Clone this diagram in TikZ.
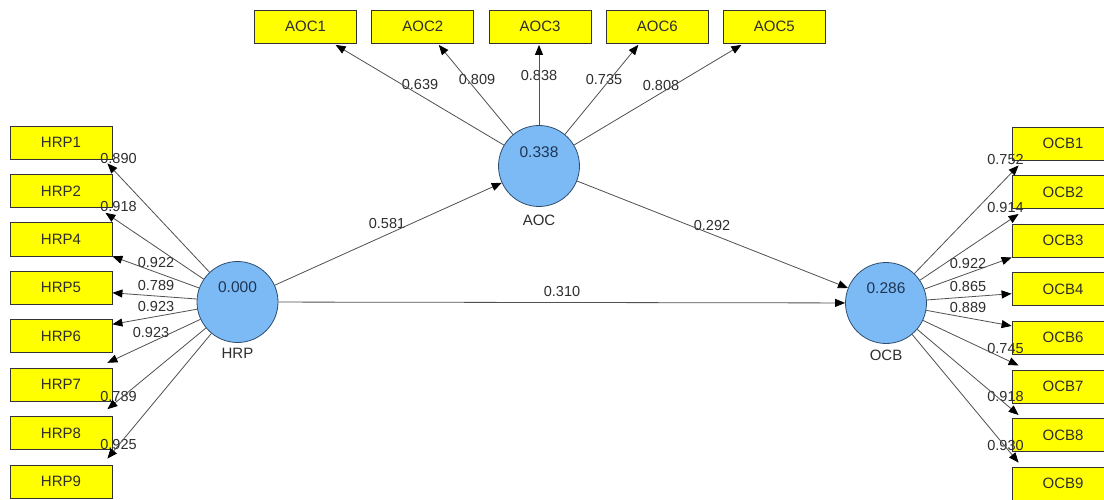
\documentclass[tikz,border=0pt]{standalone}
\usepackage{fontspec}
\setmainfont{Liberation Sans}
\usetikzlibrary{arrows.meta}
\definecolor{boxyellow}{HTML}{FFFF00}
\definecolor{lvblue}{HTML}{7CBAF6}
\definecolor{lvborder}{HTML}{2E4D6E}
\definecolor{linegray}{HTML}{505050}
\definecolor{txtgray}{HTML}{2E2E2E}
\definecolor{valblue}{HTML}{1E3554}
\begin{document}
\begin{tikzpicture}[x=1pt,y=-1pt,
  ind/.style={draw=black!80, fill=boxyellow, minimum width=102pt, minimum height=33pt,
    inner sep=0pt, font=\fontsize{15}{17}\selectfont, text=txtgray, line width=0.8pt},
  lv/.style={circle, draw=lvborder, fill=lvblue, minimum size=81pt, inner sep=0pt, line width=0.8pt},
  val/.style={font=\fontsize{15.5}{17}\selectfont, text=valblue, inner sep=0pt},
  lvname/.style={font=\fontsize{15}{17}\selectfont, text=txtgray, inner sep=0pt},
  lab/.style={font=\fontsize{14.5}{16}\selectfont, text=txtgray, inner sep=0pt},
  arr/.style={draw=linegray, line width=0.8pt, -{Triangle[length=10pt,width=8pt,color=black]}}
]
\useasboundingbox (0,0) rectangle (1104,500);
\fill[white] (0,0) rectangle (1104,500);

% indicator boxes
\node[ind] (AOC1) at (305.6,26.5) {AOC1};
\node[ind] (AOC2) at (422.8,26.5) {AOC2};
\node[ind] (AOC3) at (540,26.5) {AOC3};
\node[ind] (AOC6) at (657.3,26.5) {AOC6};
\node[ind] (AOC5) at (774.4,26.5) {AOC5};

\node[ind] (HRP1) at (61,142.5) {HRP1};
\node[ind] (HRP2) at (61,190.9) {HRP2};
\node[ind] (HRP4) at (61,239.4) {HRP4};
\node[ind] (HRP5) at (61,287.8) {HRP5};
\node[ind] (HRP6) at (61,336.2) {HRP6};
\node[ind] (HRP7) at (61,384.7) {HRP7};
\node[ind] (HRP8) at (61,433.1) {HRP8};
\node[ind] (HRP9) at (61,481.5) {HRP9};

\node[ind] (OCB1) at (1063,143.5) {OCB1};
\node[ind] (OCB2) at (1063,192.1) {OCB2};
\node[ind] (OCB3) at (1063,240.6) {OCB3};
\node[ind] (OCB4) at (1063,289.2) {OCB4};
\node[ind] (OCB6) at (1063,337.8) {OCB6};
\node[ind] (OCB7) at (1063,386.4) {OCB7};
\node[ind] (OCB8) at (1063,434.9) {OCB8};
\node[ind] (OCB9) at (1063,483.5) {OCB9};

% latent variables
\node[lv] (AOC) at (539,166) {};
\node[lv] (HRP) at (237.5,302) {};
\node[lv] (OCB) at (886,303) {};
\node[val] (vAOC) at (539,152) {0.338};
\node[val] (vHRP) at (237.5,287) {0.000};
\node[val] (vOCB) at (886,288) {0.286};
\node[lvname] (nAOC) at (539,220) {AOC};
\node[lvname] (nHRP) at (237.5,353) {HRP};
\node[lvname] (nOCB) at (886,355) {OCB};

% labels
\node[lab] (l1) at (420,85) {0.639};
\node[lab] (l2) at (477,80) {0.809};
\node[lab] (l3) at (539,76) {0.838};
\node[lab] (l4) at (604,80) {0.735};
\node[lab] (l5) at (661,86) {0.808};

\node[lab] (h1) at (118.5,159) {0.890};
\node[lab] (h2) at (118.5,207) {0.918};
\node[lab] (h4) at (156,263) {0.922};
\node[lab] (h5) at (156,286) {0.789};
\node[lab] (h6) at (156,307) {0.923};
\node[lab] (h7) at (151,333) {0.923};
\node[lab] (h8) at (118.5,397) {0.789};
\node[lab] (h9) at (118.5,445) {0.925};

\node[lab] (o1) at (1005.5,160) {0.752};
\node[lab] (o2) at (1005.5,208) {0.914};
\node[lab] (o3) at (968,264) {0.922};
\node[lab] (o4) at (968,287) {0.865};
\node[lab] (o6) at (968,308) {0.889};
\node[lab] (o7) at (1005.5,349) {0.745};
\node[lab] (o8) at (1005.5,397) {0.918};
\node[lab] (o9) at (1005.5,446) {0.930};

\node[lab] (p1) at (387,224) {0.581};
\node[lab] (p2) at (712,226) {0.292};
\node[lab] (p3) at (562,292) {0.310};

% structural paths
\draw[arr] (HRP) -- (AOC);
\draw[arr] (AOC) -- (OCB);
\draw[arr] (HRP) -- (OCB);

% AOC loadings
\draw[arr] (AOC) -- ([xshift=30pt,yshift=-1.5pt]AOC1.south);
\draw[arr] (AOC) -- ([xshift=16pt,yshift=-1.5pt]AOC2.south);
\draw[arr] (AOC) -- ([xshift=-1pt,yshift=-1.5pt]AOC3.south);
\draw[arr] (AOC) -- ([xshift=-19pt,yshift=-1.5pt]AOC6.south);
\draw[arr] (AOC) -- ([xshift=-33pt,yshift=-1.5pt]AOC5.south);

% HRP loadings
\draw[arr] (HRP) -- ([xshift=-5pt,yshift=-4pt]HRP1.south east);
\draw[arr] (HRP) -- ([xshift=-7pt,yshift=-5pt]HRP2.south east);
\draw[arr] (HRP) -- (HRP4.south east);
\draw[arr] (HRP) -- ([yshift=-5pt]HRP5.east);
\draw[arr] (HRP) -- ([yshift=-5pt]HRP6.north east);
\draw[arr] (HRP) -- ([xshift=-5pt,yshift=5pt]HRP7.north east);
\draw[arr] (HRP) -- ([xshift=-5pt,yshift=7pt]HRP8.north east);
\draw[arr] (HRP) -- ([xshift=-5pt,yshift=6pt]HRP9.north east);

% OCB loadings
\draw[arr] (OCB) -- ([xshift=7pt,yshift=-5pt]OCB1.south west);
\draw[arr] (OCB) -- ([xshift=7pt,yshift=-5pt]OCB2.south west);
\draw[arr] (OCB) -- (OCB3.south west);
\draw[arr] (OCB) -- ([yshift=-4.5pt]OCB4.west);
\draw[arr] (OCB) -- ([yshift=-5pt]OCB6.north west);
\draw[arr] (OCB) -- ([xshift=7pt,yshift=4pt]OCB7.north west);
\draw[arr] (OCB) -- ([xshift=7pt,yshift=3pt]OCB8.north west);
\draw[arr] (OCB) -- ([xshift=7pt,yshift=4pt]OCB9.north west);
\end{tikzpicture}
\end{document}
